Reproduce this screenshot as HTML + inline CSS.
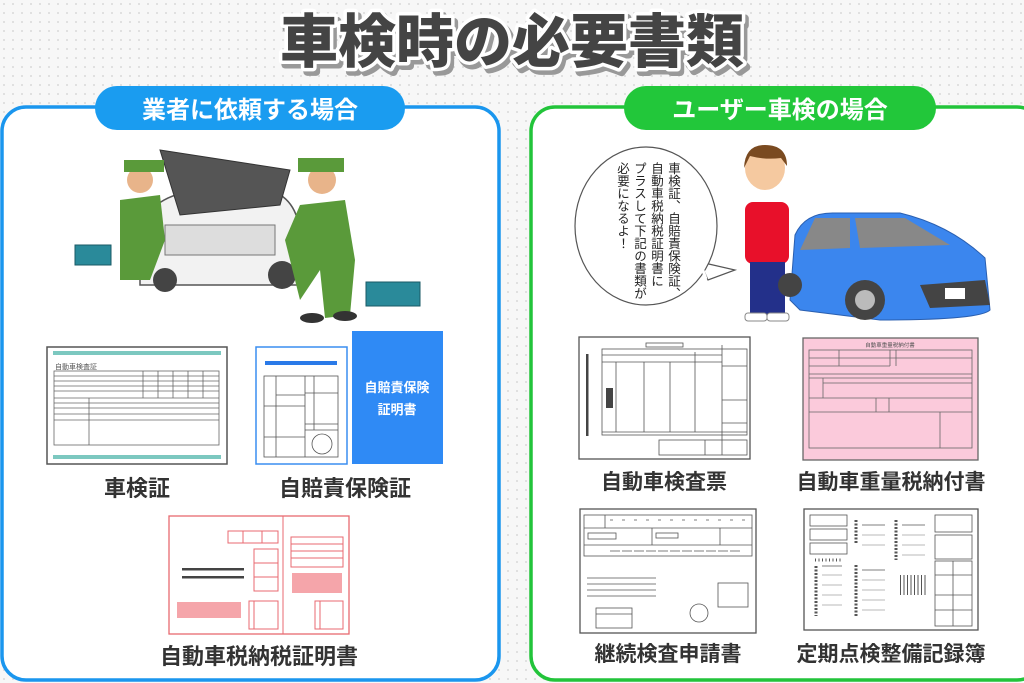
<!DOCTYPE html>
<html><head><meta charset="utf-8"><style>
html,body{margin:0;padding:0;background:#fff}
svg{display:block}
text{font-family:"Liberation Sans","Noto Sans CJK JP",sans-serif}
</style></head><body>
<svg width="1024" height="683" viewBox="0 0 1024 683" xmlns="http://www.w3.org/2000/svg">
<defs>
<pattern id="dots" width="9" height="9" patternUnits="userSpaceOnUse"><circle cx="4" cy="4" r="1" fill="#d8d8d8"/></pattern>
</defs>
<rect width="1024" height="683" fill="#f7f7f7"/>
<rect width="1024" height="683" fill="url(#dots)"/>
<!-- title -->
<text x="515" y="66" font-size="58" font-weight="900" text-anchor="middle" fill="#999" stroke="#999" stroke-width="8" stroke-linejoin="round">車検時の必要書類</text>
<text x="512" y="62" font-size="58" font-weight="900" text-anchor="middle" fill="#444" stroke="#fff" stroke-width="7" stroke-linejoin="round" paint-order="stroke">車検時の必要書類</text>
<!-- panels -->
<rect x="2" y="107" width="497" height="573" rx="24" fill="#fff" stroke="#1a96ee" stroke-width="3.5"/>
<rect x="531" y="107" width="510" height="573" rx="24" fill="#fff" stroke="#22c43a" stroke-width="3.5"/>
<rect x="95" y="86" width="310" height="44" rx="22" fill="#1a9cf0"/>
<text x="250" y="118" font-size="24" font-weight="bold" text-anchor="middle" fill="#fff">業者に依頼する場合</text>
<rect x="624" y="86" width="312" height="44" rx="22" fill="#22c73a"/>
<text x="780" y="118" font-size="24" font-weight="bold" text-anchor="middle" fill="#fff">ユーザー車検の場合</text>

<!-- left illustration -->
<rect x="75" y="245" width="36" height="20" fill="#2a8a9a" stroke="#1a5a66"/>
<rect x="366" y="282" width="54" height="24" fill="#2a8a9a" stroke="#1a5a66"/>
<path d="M140 230 Q150 195 200 190 L270 190 Q300 200 300 240 L300 285 L140 285 Z" fill="#f2f2f2" stroke="#555" stroke-width="1.5"/>
<path d="M160 150 L290 170 L280 205 L180 215 Z" fill="#555" stroke="#333"/>
<rect x="165" y="225" width="110" height="30" fill="#ddd" stroke="#777"/>
<circle cx="165" cy="280" r="12" fill="#444"/><circle cx="282" cy="275" r="14" fill="#444"/>
<circle cx="140" cy="180" r="13" fill="#e8b48a"/><rect x="124" y="160" width="40" height="12" fill="#5a9a3a"/>
<path d="M120 200 L160 195 L165 240 L150 280 L120 280 Z" fill="#5a9a3a"/>
<circle cx="322" cy="180" r="14" fill="#e8b48a"/><rect x="298" y="158" width="46" height="14" fill="#5a9a3a"/>
<path d="M300 205 L345 200 L355 260 L350 315 L325 318 L320 270 L300 300 L285 240 Z" fill="#5a9a3a"/>
<ellipse cx="312" cy="318" rx="12" ry="5" fill="#333"/><ellipse cx="345" cy="316" rx="12" ry="5" fill="#333"/>

<!-- 車検証 doc -->
<rect x="47" y="347" width="180" height="117" fill="#fff" stroke="#555" stroke-width="1.5"/>
<rect x="53" y="351" width="168" height="4" fill="#7cc8c0"/><rect x="53" y="455" width="168" height="4" fill="#7cc8c0"/>
<text x="55" y="369" font-size="7" fill="#555">自動車検査証</text>
<g stroke="#666" fill="none" stroke-width="0.8">
<rect x="54" y="371" width="165" height="74"/>
<line x1="54" y1="376" x2="219" y2="376"/><line x1="54" y1="381" x2="219" y2="381"/><line x1="54" y1="386" x2="219" y2="386"/><line x1="54" y1="391" x2="219" y2="391"/><line x1="54" y1="398" x2="219" y2="398"/><line x1="54" y1="403" x2="219" y2="403"/><line x1="54" y1="408" x2="219" y2="408"/><line x1="54" y1="414" x2="219" y2="414"/><line x1="54" y1="420" x2="219" y2="420"/>
<line x1="143" y1="371" x2="143" y2="398"/><line x1="158" y1="371" x2="158" y2="398"/><line x1="173" y1="371" x2="173" y2="398"/><line x1="188" y1="371" x2="188" y2="398"/><line x1="203" y1="371" x2="203" y2="398"/><line x1="89" y1="398" x2="89" y2="445"/>
</g>
<text x="137" y="496" font-size="22" font-weight="bold" text-anchor="middle" fill="#333">車検証</text>
<!-- 自賠責 -->
<rect x="256" y="347" width="91" height="117" fill="#fff" stroke="#3a8ef0" stroke-width="1.5"/>
<rect x="265" y="361" width="72" height="4" fill="#2a7ae8"/>
<g stroke="#555" fill="none" stroke-width="0.8">
<rect x="264" y="376" width="74" height="81"/><line x1="276" y1="376" x2="276" y2="457"/><line x1="305" y1="376" x2="305" y2="457"/><line x1="314" y1="376" x2="314" y2="430"/>
<line x1="264" y1="406" x2="305" y2="406"/><line x1="264" y1="437" x2="305" y2="437"/><line x1="276" y1="395" x2="305" y2="395"/><line x1="305" y1="393" x2="338" y2="393"/><line x1="305" y1="424" x2="338" y2="424"/><line x1="305" y1="430" x2="338" y2="430"/>
<circle cx="322" cy="444" r="10"/></g>
<rect x="352" y="331" width="91" height="133" fill="#2f8af5"/>
<text x="397" y="392" font-size="13" font-weight="bold" text-anchor="middle" fill="#fff">自賠責保険</text>
<text x="397" y="414" font-size="13" font-weight="bold" text-anchor="middle" fill="#fff">証明書</text>
<text x="345" y="496" font-size="22" font-weight="bold" text-anchor="middle" fill="#333">自賠責保険証</text>
<!-- 税 -->
<g stroke="#e86a70" fill="none" stroke-width="1">
<rect x="169" y="516" width="180" height="118" stroke-width="1.3"/><line x1="283" y1="516" x2="283" y2="634"/>
<rect x="228" y="531" width="50" height="12"/><line x1="243" y1="531" x2="243" y2="543"/><line x1="262" y1="531" x2="262" y2="543"/>
<rect x="254" y="549" width="24" height="42"/><line x1="254" y1="563" x2="278" y2="563"/><line x1="254" y1="577" x2="278" y2="577"/>
<rect x="249" y="601" width="29" height="28"/><line x1="254" y1="601" x2="254" y2="629"/>
<rect x="291" y="537" width="52" height="30"/><line x1="291" y1="544" x2="343" y2="544"/><line x1="291" y1="551" x2="343" y2="551"/><line x1="291" y1="558" x2="343" y2="558"/>
<rect x="315" y="601" width="28" height="28"/><line x1="320" y1="601" x2="320" y2="629"/></g>
<rect x="177" y="602" width="64" height="16" fill="#f5a5aa"/><rect x="292" y="573" width="50" height="20" fill="#f5a5aa"/>
<rect x="182" y="568" width="62" height="2.5" fill="#444"/><rect x="182" y="576" width="62" height="2.5" fill="#444"/>
<text x="259" y="664" font-size="22" font-weight="bold" text-anchor="middle" fill="#333">自動車税納税証明書</text>

<!-- bubble -->
<path d="M700 262 L735 270 L708 280 Z" fill="#fff" stroke="#555" stroke-width="1.2"/>
<ellipse cx="646" cy="226" rx="71" ry="79" fill="#fff" stroke="#555" stroke-width="1.2"/>
<path d="M701 265 L706 279" stroke="#fff" stroke-width="3"/>
<g font-size="12.5" fill="#222" writing-mode="tb" style="writing-mode:vertical-rl">
<text x="673" y="162">車検証、自賠責保険証、</text>
<text x="656" y="162">自動車税納税証明書に</text>
<text x="639" y="162">プラスして下記の書類が</text>
<text x="622" y="162">必要になるよ！</text>
</g>
<!-- person -->
<ellipse cx="765" cy="168" rx="20" ry="22" fill="#f5c9a0"/>
<path d="M744 168 Q745 145 765 145 Q787 145 787 166 L781 158 Q765 160 750 156 Z" fill="#7a4a20"/>
<rect x="745" y="202" width="44" height="62" rx="8" fill="#e8102a"/>
<rect x="750" y="262" width="35" height="54" fill="#23308a"/>
<rect x="745" y="313" width="22" height="8" rx="3" fill="#fff" stroke="#888"/><rect x="767" y="313" width="22" height="8" rx="3" fill="#fff" stroke="#888"/>
<!-- car -->
<path d="M790 300 L795 235 Q805 212 835 213 L900 213 Q950 225 985 258 L990 310 Q980 320 880 320 L800 310 Z" fill="#3b86ee" stroke="#2a5fb0"/>
<path d="M800 250 L815 218 L850 218 L850 248 Z" fill="#888"/><path d="M855 218 L905 218 L950 245 L860 248 Z" fill="#888"/>
<path d="M920 285 L985 280 L990 305 L930 308 Z" fill="#444"/><rect x="945" y="288" width="20" height="11" fill="#fff"/>
<circle cx="865" cy="300" r="20" fill="#444"/><circle cx="865" cy="300" r="10" fill="#bbb"/>
<circle cx="790" cy="285" r="12" fill="#444"/>

<!-- 検査票 -->
<g stroke="#555" fill="none" stroke-width="0.8">
<rect x="579" y="337" width="171" height="122" stroke-width="1.3"/>
<rect x="646" y="343" width="37" height="4"/><rect x="602" y="349" width="145" height="86"/>
<line x1="602" y1="355" x2="722" y2="355"/><line x1="602" y1="362" x2="722" y2="362"/><line x1="616" y1="362" x2="616" y2="432"/><line x1="644" y1="362" x2="644" y2="432"/><line x1="670" y1="362" x2="670" y2="432"/><line x1="695" y1="352" x2="695" y2="432"/><line x1="722" y1="345" x2="722" y2="455"/>
<line x1="722" y1="366" x2="747" y2="366"/><line x1="722" y1="400" x2="747" y2="400"/><line x1="722" y1="423" x2="747" y2="423"/><line x1="602" y1="432" x2="747" y2="432"/>
<rect x="659" y="440" width="88" height="15"/><line x1="705" y1="440" x2="705" y2="455"/></g>
<rect x="586" y="354" width="2.5" height="82" fill="#444"/><rect x="606" y="388" width="7" height="20" fill="#444"/>
<text x="664" y="489" font-size="21" font-weight="bold" text-anchor="middle" fill="#333">自動車検査票</text>
<!-- 重量税 -->
<rect x="803" y="338" width="175" height="122" fill="#fbcadb" stroke="#666" stroke-width="1.3"/>
<text x="890" y="347" font-size="5.5" text-anchor="middle" fill="#555">自動車重量税納付書</text>
<g stroke="#666" fill="none" stroke-width="0.8">
<rect x="809" y="350" width="163" height="98"/><line x1="809" y1="358" x2="972" y2="358"/><line x1="809" y1="366" x2="890" y2="366"/><line x1="809" y1="374" x2="972" y2="374"/><line x1="839" y1="350" x2="839" y2="366"/><line x1="890" y1="350" x2="890" y2="366"/><line x1="896" y1="350" x2="896" y2="366"/>
<line x1="809" y1="378" x2="972" y2="378"/><line x1="823" y1="378" x2="823" y2="398"/><line x1="823" y1="383" x2="972" y2="383"/>
<line x1="809" y1="398" x2="972" y2="398"/><line x1="876" y1="398" x2="876" y2="412"/><line x1="889" y1="398" x2="889" y2="412"/><line x1="809" y1="412" x2="972" y2="412"/><line x1="940" y1="412" x2="940" y2="448"/></g>
<text x="891" y="489" font-size="21" font-weight="bold" text-anchor="middle" fill="#333">自動車重量税納付書</text>
<!-- 継続 -->
<g stroke="#555" fill="none" stroke-width="0.8">
<rect x="580" y="509" width="176" height="124" stroke-width="1.3"/>
<rect x="584" y="515" width="168" height="41"/><line x1="584" y1="528" x2="752" y2="528"/><line x1="584" y1="545" x2="752" y2="545"/><line x1="605" y1="515" x2="605" y2="528"/><line x1="652" y1="528" x2="652" y2="545"/><line x1="720" y1="528" x2="720" y2="545"/>
<line x1="587" y1="578" x2="656" y2="578"/><line x1="587" y1="584" x2="656" y2="584"/><line x1="587" y1="590" x2="656" y2="590"/><line x1="587" y1="596" x2="656" y2="596"/>
<rect x="718" y="583" width="30" height="24"/><circle cx="699" cy="613" r="9"/><rect x="596" y="608" width="36" height="20"/><line x1="596" y1="614" x2="632" y2="614"/>
<rect x="588" y="533" width="28" height="6"/><rect x="656" y="533" width="22" height="5"/>
<line x1="610" y1="520" x2="750" y2="520" stroke-dasharray="3 9"/><line x1="610" y1="551" x2="740" y2="551" stroke-dasharray="10 2"/></g>
<text x="668" y="661" font-size="21" font-weight="bold" text-anchor="middle" fill="#333">継続検査申請書</text>
<!-- 定期 -->
<g stroke="#555" fill="none" stroke-width="0.8">
<rect x="804" y="509" width="174" height="121" stroke-width="1.3"/>
<rect x="810" y="515" width="37" height="11"/><rect x="810" y="529" width="37" height="11"/><rect x="810" y="543" width="37" height="11"/>
<rect x="935" y="515" width="37" height="17"/><rect x="935" y="535" width="37" height="24"/><rect x="935" y="561" width="37" height="65"/><line x1="935" y1="575" x2="972" y2="575"/><line x1="935" y1="595" x2="972" y2="595"/><line x1="953" y1="561" x2="953" y2="626"/><line x1="935" y1="610" x2="972" y2="610"/>
<line x1="815" y1="560" x2="843" y2="560" stroke-dasharray="1 2.5" stroke-width="3"/>
<line x1="816" y1="566" x2="816" y2="616" stroke-dasharray="2 1.5" stroke-width="3"/><line x1="856" y1="520" x2="856" y2="544" stroke-dasharray="2 1.5" stroke-width="3"/><line x1="856" y1="565" x2="856" y2="616" stroke-dasharray="2 1.5" stroke-width="3"/><line x1="896" y1="520" x2="896" y2="560" stroke-dasharray="2 1.5" stroke-width="3"/>
<line x1="822" y1="566" x2="842" y2="566" /><line x1="862" y1="525" x2="885" y2="525"/><line x1="862" y1="570" x2="885" y2="570"/><line x1="902" y1="525" x2="925" y2="525"/>
<line x1="900" y1="585" x2="928" y2="585" stroke-dasharray="1 2.5" stroke-width="20"/></g>
<g stroke="#777" stroke-width="0.6">
<line x1="822" y1="575" x2="842" y2="575"/><line x1="822" y1="585" x2="842" y2="585"/><line x1="822" y1="595" x2="842" y2="595"/><line x1="822" y1="605" x2="842" y2="605"/>
<line x1="862" y1="535" x2="885" y2="535"/><line x1="862" y1="545" x2="885" y2="545"/><line x1="862" y1="580" x2="885" y2="580"/><line x1="862" y1="590" x2="885" y2="590"/><line x1="862" y1="600" x2="885" y2="600"/><line x1="862" y1="610" x2="885" y2="610"/>
<line x1="902" y1="535" x2="925" y2="535"/><line x1="902" y1="545" x2="925" y2="545"/><line x1="902" y1="555" x2="925" y2="555"/></g>
<text x="891" y="661" font-size="21" font-weight="bold" text-anchor="middle" fill="#333">定期点検整備記録簿</text>
</svg>
</body></html>
